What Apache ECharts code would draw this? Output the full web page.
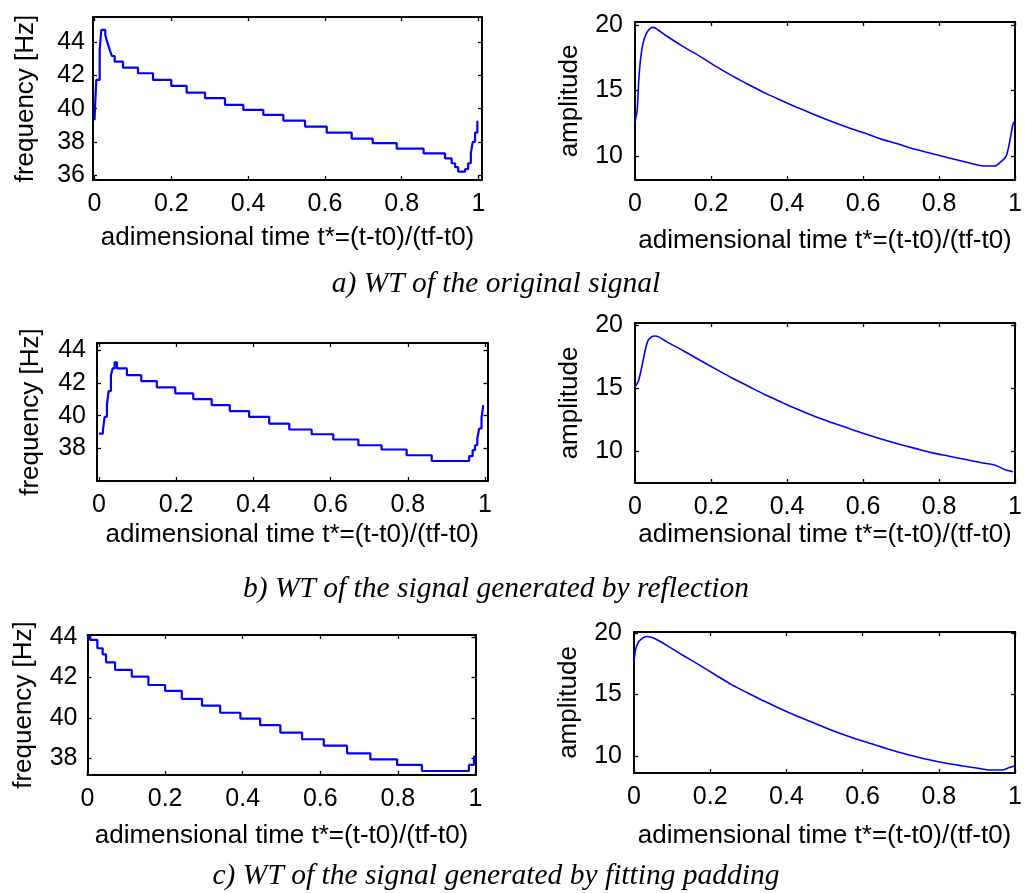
<!DOCTYPE html>
<html><head><meta charset="utf-8">
<script src="https://cdn.jsdelivr.net/npm/echarts@6/dist/echarts.min.js"></script>
<style>html,body{margin:0;padding:0;background:#fff}#c{width:1025px;height:893px}</style>
</head><body><div id="c"></div>
<script>
// ---------- texts & ticks ----------
const xTicks = [0, 0.2, 0.4, 0.6, 0.8, 1];
const xTickLabels = ['0', '0.2', '0.4', '0.6', '0.8', '1'];
const freqTicksA = [36, 38, 40, 42, 44];
const freqTicksBC = [38, 40, 42, 44];
const ampTicks = [10, 15, 20];
const xLabel = 'adimensional time t*=(t-t0)/(tf-t0)';
const freqLabel = 'frequency [Hz]';
const ampLabel = 'amplitude';
const captions = ['a) WT of the original signal',
                  'b) WT of the signal generated by reflection',
                  'c) WT of the signal generated by fitting padding'];

// ---------- data: frequency (step breakpoints) ----------
const freqA_t = [0, 0.001, 0.0047, 0.0135, 0.0177, 0.0281, 0.0326, 0.037, 0.0411, 0.0456, 0.0526, 0.0742, 0.1133, 0.1523, 0.2, 0.240, 0.2878, 0.3398, 0.3875, 0.4396, 0.4917, 0.5482, 0.6047, 0.6698, 0.7245, 0.787, 0.857, 0.9128, 0.930, 0.939, 0.947, 0.965, 0.973, 0.980, 0.985, 0.991, 0.997, 0.9995];
const freqA_f = [39.3, 39.92, 41.73, 43.54, 44.74, 44.44, 44.04, 43.74, 43.44, 43.17, 42.83, 42.47, 42.13, 41.73, 41.37, 40.96, 40.63, 40.22, 39.92, 39.62, 39.28, 38.92, 38.55, 38.19, 37.92, 37.59, 37.3, 37.0, 36.71, 36.47, 36.2, 36.35, 36.71, 37.31, 38.0, 38.55, 39.22, 39.22];

const freqB_t = [0, 0.0104, 0.0147, 0.0207, 0.025, 0.0311, 0.0354, 0.0406, 0.0466, 0.0725, 0.1096, 0.150, 0.1977, 0.2443, 0.292, 0.339, 0.389, 0.441, 0.493, 0.551, 0.607, 0.672, 0.732, 0.797, 0.862, 0.959, 0.968, 0.974, 0.980, 0.985, 0.991, 0.9956];
const freqB_f = [38.91, 39.12, 39.93, 40.64, 41.5, 42.47, 42.88, 43.25, 42.88, 42.47, 42.11, 41.72, 41.36, 41.01, 40.64, 40.28, 39.93, 39.52, 39.16, 38.87, 38.55, 38.2, 37.94, 37.59, 37.24, 37.53, 37.9, 38.2, 38.61, 39.22, 39.87, 40.64];

const freqC_t = [0, 0.0065, 0.0254, 0.039, 0.0477, 0.071, 0.114, 0.157, 0.2, 0.243, 0.295, 0.342, 0.394, 0.445, 0.497, 0.553, 0.609, 0.669, 0.729, 0.798, 0.862, 0.983, 0.996, 1.0];
const freqC_f = [44.04, 43.88, 43.46, 43.16, 42.76, 42.38, 42.05, 41.63, 41.34, 40.94, 40.6, 40.25, 39.96, 39.63, 39.26, 38.93, 38.61, 38.23, 37.93, 37.65, 37.35, 37.65, 38.06, 38.06];

// ---------- data: amplitude ----------
const ampA_t = [0, 0.0057, 0.010, 0.0144, 0.021, 0.030, 0.040, 0.048, 0.061, 0.083, 0.127, 0.170, 0.214, 0.257, 0.301, 0.344, 0.388, 0.432, 0.475, 0.519, 0.562, 0.606, 0.650, 0.693, 0.737, 0.780, 0.824, 0.867, 0.902, 0.919, 0.946, 0.963, 0.976, 0.985, 0.994, 0.997];
const ampA_v = [12.62, 13.5, 15.8, 17.33, 18.6, 19.36, 19.75, 19.82, 19.62, 19.16, 18.35, 17.63, 16.82, 16.1, 15.42, 14.78, 14.2, 13.64, 13.13, 12.62, 12.16, 11.73, 11.27, 10.92, 10.51, 10.2, 9.87, 9.57, 9.31, 9.24, 9.24, 9.57, 9.95, 10.97, 12.37, 12.62];

const ampB_t = [0, 0.0083, 0.017, 0.026, 0.033, 0.044, 0.052, 0.065, 0.083, 0.127, 0.170, 0.214, 0.257, 0.301, 0.344, 0.388, 0.432, 0.475, 0.519, 0.562, 0.606, 0.650, 0.693, 0.737, 0.780, 0.824, 0.867, 0.911, 0.946, 0.972, 0.994];
const ampB_v = [15.1, 15.5, 16.56, 17.88, 18.68, 19.07, 19.13, 19.02, 18.68, 17.96, 17.22, 16.48, 15.77, 15.1, 14.44, 13.84, 13.25, 12.72, 12.25, 11.8, 11.35, 10.93, 10.56, 10.21, 9.87, 9.6, 9.34, 9.07, 8.89, 8.54, 8.36];

const ampC_t = [0, 0.004, 0.010, 0.019, 0.032, 0.045, 0.058, 0.084, 0.127, 0.171, 0.214, 0.257, 0.300, 0.344, 0.387, 0.430, 0.474, 0.517, 0.560, 0.604, 0.647, 0.690, 0.733, 0.777, 0.820, 0.863, 0.907, 0.933, 0.968, 0.985, 0.998];
const ampC_v = [17.69, 18.64, 19.18, 19.51, 19.73, 19.67, 19.51, 19.05, 18.23, 17.42, 16.6, 15.79, 15.11, 14.43, 13.8, 13.21, 12.66, 12.12, 11.63, 11.17, 10.76, 10.35, 10.0, 9.67, 9.4, 9.18, 8.97, 8.86, 8.86, 9.05, 9.18];

// ---------- layout ----------
const panels = [
  {box:[93, 17, 482, 180],  x:[-0.0039, 1.0091], y:[35.70, 45.52], yTicks:freqTicksA,  yName:freqLabel, t:freqA_t, v:freqA_f, step:true,  yGap:54, xGap:45, yLM:8},
  {box:[635, 22, 1017, 180], x:[0, 1],          y:[8.17, 20.23],  yTicks:ampTicks,    yName:ampLabel,  t:ampA_t,  v:ampA_v,  step:false, yGap:52, xGap:48, yLM:12},
  {box:[97, 343, 487.5, 481], x:[-0.005, 1.0065], y:[36.02, 44.43], yTicks:freqTicksBC, yName:freqLabel, t:freqB_t, v:freqB_f, step:true, yGap:53, xGap:41, yLM:11},
  {box:[635, 323, 1017, 483], x:[0, 1],          y:[7.46, 20.16],  yTicks:ampTicks,    yName:ampLabel,  t:ampB_t,  v:ampB_v,  step:false, yGap:52, xGap:39, yLM:12},
  {box:[87.5, 635, 475.5, 775], x:[0, 1],        y:[37.15, 44.12], yTicks:freqTicksBC, yName:freqLabel, t:freqC_t, v:freqC_f, step:true, yGap:51, xGap:48, yLM:10},
  {box:[634, 632, 1019, 773], x:[0, 1],          y:[8.61, 20.1],   yTicks:ampTicks,    yName:ampLabel,  t:ampC_t,  v:ampC_v,  step:false, yGap:52, xGap:50, yLM:12}
];
const captionPos = [[496, 284], [496, 589], [496, 876]];

const SANS = 'Liberation Sans';
const lineCol = '#000';
const tickFont = {fontFamily: SANS, fontSize: 25, color: '#000'};
const nameFont = {fontFamily: SANS, fontSize: 26, color: '#000'};

const grids = [], xAxes = [], yAxes = [], series = [];
panels.forEach((p, i) => {
  const [l, t, r, b] = p.box;
  grids.push({left: l, top: t, width: r - l, height: b - t, containLabel: false});
  const common = {gridIndex: i, type: 'value', splitLine: {show: false},
    axisLine: {show: true, onZero: false, lineStyle: {color: lineCol, width: 2}}};
  xAxes.push(Object.assign({}, common, {position: 'bottom', min: p.x[0], max: p.x[1],
    axisTick: {show: true, inside: true, length: 4, customValues: xTicks, lineStyle: {color: lineCol, width: 1.3}},
    axisLabel: {show: true, customValues: xTicks, margin: 12, formatter: v => xTickLabels[xTicks.findIndex(x => Math.abs(x - v) < 1e-9)] ?? String(v), ...tickFont},
    name: xLabel, nameLocation: 'middle', nameGap: p.xGap, nameTextStyle: nameFont}));
  xAxes.push(Object.assign({}, common, {position: 'top', min: p.x[0], max: p.x[1],
    axisTick: {show: true, inside: true, length: 4, customValues: xTicks, lineStyle: {color: lineCol, width: 1.3}},
    axisLabel: {show: false}}));
  yAxes.push(Object.assign({}, common, {position: 'left', min: p.y[0], max: p.y[1],
    axisTick: {show: true, inside: true, length: 4, customValues: p.yTicks, lineStyle: {color: lineCol, width: 1.3}},
    axisLabel: {show: true, customValues: p.yTicks, margin: p.yLM, ...tickFont},
    name: p.yName, nameLocation: 'middle', nameGap: p.yGap, nameTextStyle: nameFont}));
  yAxes.push(Object.assign({}, common, {position: 'right', min: p.y[0], max: p.y[1],
    axisTick: {show: true, inside: true, length: 4, customValues: p.yTicks, lineStyle: {color: lineCol, width: 1.3}},
    axisLabel: {show: false}}));
  series.push({type: 'line', xAxisIndex: 2 * i, yAxisIndex: 2 * i,
    data: p.t.map((x, k) => [x, p.v[k]]),
    step: p.step ? 'end' : false, smooth: p.step ? false : 0.3,
    showSymbol: false, silent: true,
    lineStyle: {color: '#0000ff', width: p.step ? 2.2 : 1.6}});
});

const graphics = captions.map((c, i) => ({type: 'text', x: captionPos[i][0], y: captionPos[i][1],
  style: {text: c, fontFamily: 'Liberation Serif', fontStyle: 'italic', fontSize: 29.5, fill: '#000', align: 'center', verticalAlign: 'middle'}}));

const chart = echarts.init(document.getElementById('c'), null, {renderer: 'canvas'});
chart.setOption({animation: false, backgroundColor: '#fff', grid: grids, xAxis: xAxes, yAxis: yAxes, series: series, graphic: graphics});
</script></body></html>
